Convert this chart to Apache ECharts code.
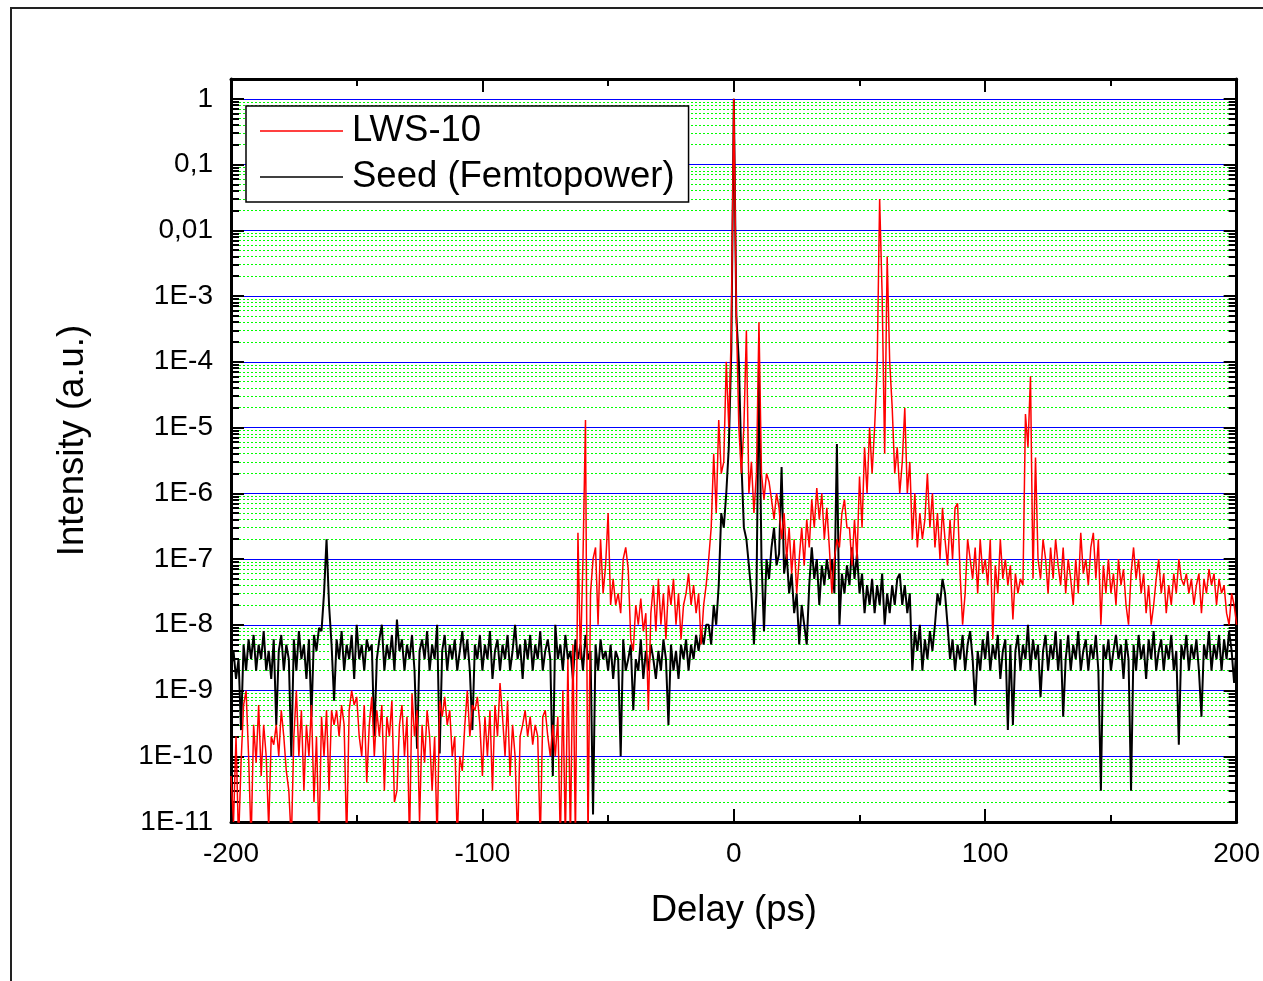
<!DOCTYPE html>
<html>
<head>
<meta charset="utf-8">
<title>Delay scan</title>
<script src="https://cdn.jsdelivr.net/npm/echarts@6.0.0/dist/echarts.min.js"></script>
<style>
  html, body { margin: 0; padding: 0; background: #fff; }
  #chart { width: 1263px; height: 981px; }
</style>
</head>
<body>
<div id="chart"></div>
<script>
// delay grid, 1 ps sampling from -200 to 200 ps
const delayStart = -200;
const delayEnd = 200;

// LWS-10 (red), one value per ps
const lwsValues = [
  5e-11, 1e-11, 2e-10, 5e-12, 8e-11, 6e-10, 1e-9, 1e-10, 5e-12, 3e-10, // -200
  8e-11, 6e-10, 5e-11, 3e-10, 1e-10, 8e-12, 2e-10, 1.5e-10, 3e-10, 1e-10, // -190
  5e-10, 2e-10, 6e-11, 3e-11, 5e-12, 2e-10, 1e-9, 1e-10, 5e-10, 3e-11, // -180
  3e-10, 1e-10, 6e-10, 2e-11, 2e-10, 5e-12, 4e-10, 1e-10, 5e-10, 3e-11, // -170
  5e-10, 3e-10, 5e-10, 2e-10, 6e-10, 3e-10, 5e-12, 5e-10, 1e-9, 6e-10, // -160
  8e-10, 2e-10, 1e-10, 6e-10, 4e-11, 3e-10, 8e-10, 1e-10, 5e-10, 2e-10, // -150
  6e-10, 3e-11, 4e-10, 2e-10, 7e-10, 2e-11, 3e-11, 3e-10, 6e-10, 1e-10, // -140
  4e-10, 5e-12, 9e-10, 2e-10, 5e-10, 1e-11, 3e-10, 8e-11, 5e-10, 2e-10, // -130
  3e-11, 2e-10, 5e-12, 7e-10, 4e-10, 8e-10, 3e-10, 5e-10, 1e-10, 2e-10, // -120
  5e-12, 1e-10, 6e-11, 3e-10, 1e-9, 2e-10, 6e-10, 5e-10, 8e-10, 3e-10, // -110
  5e-11, 4e-10, 1e-10, 5e-10, 3e-11, 6e-10, 2e-10, 1.3e-9, 4e-10, 1e-10, // -100
  7e-10, 5e-11, 3e-10, 1e-10, 5e-12, 2e-10, 3e-10, 5e-10, 2e-10, 4e-10, // -90
  1.5e-10, 3e-10, 2e-10, 5e-12, 4e-10, 5e-10, 2e-10, 1e-10, 3e-10, 1e-10, // -80
  4e-10, 5e-12, 1e-9, 5e-12, 3e-9, 5e-12, 5e-9, 5e-12, 2.5e-7, 3e-9, // -70
  1e-7, 1.3e-5, 5e-12, 3e-8, 1e-7, 1.5e-7, 1e-8, 2e-7, 3e-8, 8e-8, // -60
  5e-7, 2e-8, 5e-8, 2e-8, 3e-8, 1.5e-8, 1e-7, 1.5e-7, 7e-8, 6e-9, // -50
  4e-9, 2e-8, 1e-8, 2.5e-8, 8e-9, 1.5e-8, 5e-10, 1.5e-8, 4e-8, 8e-9, // -40
  5e-8, 1e-8, 3e-8, 6e-9, 4e-8, 2e-8, 5e-8, 1e-8, 3e-8, 6e-9, // -30
  2e-8, 3e-8, 6e-8, 2e-8, 4e-8, 1.5e-8, 3e-8, 5e-9, 2e-8, 4e-8, // -20
  1e-7, 3e-7, 4e-6, 5e-7, 1.3e-5, 2e-6, 3e-6, 1e-4, 1e-5, 3e-4, // -10
  1, 5e-4, 1e-5, 2e-6, 1e-5, 3e-4, 1e-6, 3e-6, 5e-7, 2e-6, // 0
  4e-4, 2e-6, 8e-7, 2e-6, 1.5e-6, 8e-7, 4e-7, 1e-6, 6e-7, 2e-7, // 10
  5e-7, 1e-7, 3e-7, 6e-8, 2e-7, 3e-8, 1e-7, 3e-7, 8e-8, 4e-7, // 20
  1.5e-7, 8e-7, 3e-7, 1.2e-6, 4e-7, 1e-6, 2e-7, 6e-7, 1.5e-7, 3e-8, // 30
  1e-7, 2e-7, 1.5e-7, 5e-7, 8e-7, 3e-7, 3e-7, 8e-8, 4e-7, 1e-7, // 40
  1.8e-6, 3e-7, 5e-6, 1e-6, 1e-5, 2e-6, 1e-5, 8e-5, 0.03, 1e-3, // 50
  4e-6, 4e-3, 1e-4, 2e-5, 2e-6, 5e-6, 1e-6, 3e-6, 2e-5, 1e-6, // 60
  3e-6, 2e-7, 1e-6, 1.5e-7, 5e-7, 2e-7, 4e-7, 2e-6, 3e-7, 1e-6, // 70
  1.5e-7, 5e-7, 1e-7, 6e-7, 2e-7, 8e-8, 4e-7, 1e-7, 6e-7, 7e-7, // 80
  6e-8, 1e-8, 3e-8, 2e-7, 1e-7, 5e-8, 1.5e-7, 3e-8, 2e-7, 6e-8, // 90
  1e-7, 4e-8, 2e-7, 6e-9, 8e-8, 3e-8, 2e-7, 5e-8, 1e-7, 4e-8, // 100
  8e-8, 1.2e-8, 6e-8, 3e-8, 5e-8, 4e-8, 1.6e-5, 5e-6, 6e-5, 5e-8, // 110
  3.5e-6, 1e-7, 5e-8, 2e-7, 1e-7, 3e-8, 1.5e-7, 5e-8, 2e-7, 8e-8, // 120
  4e-8, 1.5e-7, 3e-8, 1e-7, 5e-8, 2e-8, 1e-7, 3e-8, 2.5e-7, 6e-8, // 130
  1e-7, 4e-8, 1.5e-7, 2.5e-7, 5e-8, 2e-7, 1e-8, 8e-8, 3e-8, 1e-7, // 140
  3e-8, 6e-8, 2e-8, 1e-7, 4e-8, 7e-8, 2e-8, 1e-8, 6e-8, 1.5e-7, // 150
  5e-8, 1e-7, 3e-8, 6e-8, 1.5e-8, 4e-8, 1e-8, 2e-8, 5e-8, 1e-7, // 160
  3e-8, 6e-8, 1.5e-8, 4e-8, 2e-8, 6e-8, 3e-8, 1e-7, 5e-8, 4e-8, // 170
  6e-8, 3e-8, 5e-8, 2e-8, 4e-8, 6e-8, 1.5e-8, 5e-8, 3e-8, 7e-8, // 180
  4e-8, 6e-8, 2e-8, 5e-8, 3e-8, 4e-8, 1.5e-8, 1e-8, 3e-8, 2e-8, // 190
  1e-8 // 200
];

// Seed (Femtopower) (black)
const seedValues = [
  2e-9, 4e-9, 1.5e-9, 3e-9, 2.5e-10, 5e-9, 2e-9, 6e-9, 3e-9, 7e-9, // -200
  2e-9, 5e-9, 3e-9, 8e-9, 2e-9, 4e-9, 1.5e-9, 6e-9, 3e-10, 4e-9, // -190
  7e-9, 2e-9, 5e-9, 3e-9, 1e-10, 6e-9, 2e-9, 8e-9, 3e-9, 5e-9, // -180
  1.5e-9, 6e-9, 4e-10, 7e-9, 4e-9, 9e-9, 8e-9, 3e-8, 2e-7, 2e-8, // -170
  5e-9, 7e-10, 6e-9, 3e-9, 8e-9, 2e-9, 5e-9, 3e-9, 7e-9, 1.5e-9, // -160
  1e-8, 3e-9, 5e-9, 2e-9, 6e-9, 4e-9, 5e-9, 2e-10, 3e-9, 6e-9, // -150
  1e-8, 2e-9, 5e-9, 3e-9, 7e-9, 2e-9, 1.2e-8, 4e-9, 6e-9, 2e-9, // -140
  5e-9, 3e-9, 7e-9, 2e-9, 1.3e-10, 4e-9, 6e-9, 3e-9, 8e-9, 2e-9, // -130
  5e-9, 3e-9, 1e-8, 1.1e-10, 4e-9, 7e-9, 2e-9, 5e-9, 3e-9, 6e-9, // -120
  2e-9, 4e-9, 8e-9, 3e-9, 6e-9, 2e-9, 2.5e-10, 5e-9, 3e-9, 7e-9, // -110
  2e-9, 5e-9, 3e-9, 8e-9, 1.5e-9, 4e-9, 6e-9, 2e-9, 5e-9, 3e-9, // -100
  7e-9, 2e-9, 4e-9, 1e-8, 3e-9, 5e-9, 1.5e-9, 6e-9, 3e-9, 7e-9, // -90
  2e-9, 5e-9, 3e-9, 8e-9, 2e-9, 4e-9, 6e-9, 3e-9, 5e-11, 1e-8, // -80
  3e-9, 5e-9, 2e-9, 7e-9, 3e-9, 4e-9, 1.5e-9, 6e-9, 3e-9, 5e-9, // -70
  2e-9, 7e-9, 3e-9, 4e-9, 1.3e-11, 5e-9, 2e-9, 6e-9, 3e-9, 4e-9, // -60
  2e-9, 5e-9, 1.5e-9, 4e-9, 3e-9, 1e-10, 6e-9, 2e-9, 3e-9, 5e-9, // -50
  5e-10, 3e-9, 2e-9, 6e-9, 1.5e-9, 4e-9, 2e-9, 5e-9, 3e-9, 1.5e-9, // -40
  4e-9, 2e-9, 6e-9, 3e-9, 3e-10, 5e-9, 2e-9, 4e-9, 1.5e-9, 5e-9, // -30
  3e-9, 6e-9, 2e-9, 5e-9, 3e-9, 7e-9, 4e-9, 8e-9, 5e-9, 1e-8, // -20
  1e-8, 5e-9, 2e-8, 1e-8, 4e-8, 5e-7, 3e-7, 1e-6, 5e-6, 1.5e-4, // -10
  1, 5e-4, 1e-4, 3e-6, 3e-7, 2e-7, 8e-8, 3e-8, 5e-9, 3e-8, // 0
  8e-5, 1e-7, 8e-9, 1e-7, 5e-8, 1.5e-7, 3e-7, 8e-8, 1.2e-7, 2.5e-6, // 10
  6e-8, 1.2e-7, 3e-8, 6e-8, 1.5e-8, 3e-8, 5e-9, 2e-8, 1e-8, 5e-9, // 20
  4e-8, 1.5e-7, 5e-8, 1e-7, 2e-8, 8e-8, 4e-8, 1e-7, 5e-8, 1e-7, // 30
  3e-8, 5.6e-6, 1e-8, 6e-8, 3e-8, 8e-8, 4e-8, 1.5e-7, 5e-8, 1.2e-7, // 40
  3e-8, 6e-8, 1.5e-8, 4e-8, 2e-8, 5e-8, 1.5e-8, 4e-8, 2e-8, 6e-8, // 50
  1e-8, 3e-8, 1.5e-8, 4e-8, 2e-8, 5e-8, 6e-8, 2e-8, 4e-8, 1.5e-8, // 60
  3e-8, 2e-9, 8e-9, 4e-9, 1e-8, 2e-9, 6e-9, 3e-9, 8e-9, 4e-9, // 70
  1e-8, 3e-8, 2e-8, 5e-8, 3e-8, 1e-8, 3e-9, 6e-9, 2e-9, 5e-9, // 80
  3e-9, 7e-9, 2e-9, 5e-9, 8e-9, 3e-9, 6e-10, 4e-9, 2e-9, 6e-9, // 90
  3e-9, 8e-9, 2e-9, 5e-9, 3e-9, 7e-9, 1.5e-9, 4e-9, 6e-9, 2.5e-10, // 100
  5e-9, 3e-10, 4e-9, 7e-9, 2e-9, 5e-9, 3e-9, 1e-8, 2e-9, 6e-9, // 110
  3e-9, 5e-9, 8e-10, 4e-9, 7e-9, 2e-9, 5e-9, 3e-9, 8e-9, 2e-9, // 120
  6e-9, 4e-10, 3e-9, 7e-9, 2e-9, 5e-9, 3e-9, 8e-9, 2e-9, 4e-9, // 130
  6e-9, 2e-9, 5e-9, 3e-9, 7e-9, 2e-9, 3e-11, 5e-9, 3e-9, 6e-9, // 140
  2e-9, 4e-9, 7e-9, 3e-9, 5e-9, 1.5e-9, 6e-9, 3e-9, 3e-11, 5e-9, // 150
  2e-9, 7e-9, 3e-9, 5e-9, 1.5e-9, 6e-9, 3e-9, 8e-9, 2e-9, 4e-9, // 160
  6e-9, 2e-9, 5e-9, 3e-9, 7e-9, 2e-9, 4e-9, 1.5e-10, 5e-9, 3e-9, // 170
  7e-9, 2e-9, 5e-9, 3e-9, 6e-9, 2e-9, 4e-10, 5e-9, 3e-9, 8e-9, // 180
  2e-9, 5e-9, 3e-9, 7e-9, 2e-9, 6e-9, 3e-9, 8e-9, 4e-9, 1.3e-9, // 190
  5e-9 // 200
];

// y tick labels, 1E-11 ... 1 (decimal comma as in the original)
const yTickLabels = ["1E-11", "1E-10", "1E-9", "1E-8", "1E-7", "1E-6", "1E-5", "1E-4", "1E-3", "0,01", "0,1", "1"];
const xTicks = { min: -200, max: 200, interval: 100 };
const yRange = { min: 1e-11, max: 2 };

const FONT = "'Liberation Sans', Arial, sans-serif";

const delays = [];
for (let t = delayStart; t <= delayEnd; t++) delays.push(t);
const toPairs = (vals) => vals.map((v, i) => [delays[i], v]);

const yLabel = (value) => {
  const e = Math.log10(value);
  if (Math.abs(e - Math.round(e)) > 0.01) return "";
  return yTickLabels[Math.round(e) + 11] || "";
};

const frameAxisLine = { show: true, onZero: false, lineStyle: { color: "#000", width: 3 } };
const tick = { show: true, inside: true, length: 13, lineStyle: { color: "#000", width: 2 } };

const chart = echarts.init(document.getElementById("chart"), null, { renderer: "canvas" });

const option = {
  animation: false,
  backgroundColor: "#fff",
  graphic: [
    {
      type: "rect",
      silent: true,
      z: -10,
      shape: { x: 11, y: 8, width: 1400, height: 1100 },
      style: { fill: "none", stroke: "#222", lineWidth: 2 },
    },
  ],
  grid: { left: 231, top: 79, width: 1006, height: 743, containLabel: false },
  legend: {
    orient: "vertical",
    left: 246,
    top: 106,
    selectedMode: false,
    backgroundColor: "#fff",
    borderColor: "#000",
    borderWidth: 1.5,
    borderRadius: 0,
    padding: [5, 14, 5, 14],
    itemGap: 6,
    itemWidth: 83,
    itemHeight: 1.5,
    icon: "rect",
    textStyle: { fontSize: 36.5, fontFamily: FONT, color: "#000", lineHeight: 40, padding: [0, 0, 0, 4] },
    data: ["LWS-10", "Seed (Femtopower)"],
  },
  xAxis: [
    {
      type: "value",
      min: xTicks.min,
      max: xTicks.max,
      interval: xTicks.interval,
      name: "Delay (ps)",
      nameLocation: "middle",
      nameGap: 70,
      nameTextStyle: { fontSize: 36.5, fontFamily: FONT, color: "#000" },
      axisLine: frameAxisLine,
      axisTick: tick,
      minorTick: { show: true, splitNumber: 2, length: 7, lineStyle: { color: "#000", width: 2 } },
      axisLabel: { fontSize: 28, fontFamily: FONT, color: "#000", margin: 18 },
      splitLine: { show: false },
    },
    {
      type: "value",
      position: "top",
      min: xTicks.min,
      max: xTicks.max,
      interval: xTicks.interval,
      axisLine: frameAxisLine,
      axisTick: tick,
      minorTick: { show: true, splitNumber: 2, length: 7, lineStyle: { color: "#000", width: 2 } },
      axisLabel: { show: false },
      splitLine: { show: false },
    },
  ],
  yAxis: [
    {
      type: "log",
      logBase: 10,
      min: yRange.min,
      max: yRange.max,
      interval: 1,
      name: "Intensity (a.u.)",
      nameLocation: "middle",
      nameGap: 140,
      nameTextStyle: { fontSize: 36.5, fontFamily: FONT, color: "#000", padding: [0, 0, 0, 20] },
      axisLine: frameAxisLine,
      axisTick: tick,
      minorTick: { show: true, splitNumber: 9, length: 8, lineStyle: { color: "#000", width: 2 } },
      axisLabel: { fontSize: 28, fontFamily: FONT, color: "#000", margin: 18, formatter: yLabel },
      splitLine: { show: true, lineStyle: { color: "#0000ff", width: 1.2 } },
      minorSplitLine: { show: true, lineStyle: { color: "#00ff00", width: 1, type: [2, 2] } },
    },
    {
      type: "log",
      logBase: 10,
      position: "right",
      min: yRange.min,
      max: yRange.max,
      interval: 1,
      axisLine: frameAxisLine,
      axisTick: tick,
      minorTick: { show: true, splitNumber: 9, length: 8, lineStyle: { color: "#000", width: 2 } },
      axisLabel: { show: false },
      splitLine: { show: false },
    },
  ],
  series: [
    {
      name: "Seed (Femtopower)",
      type: "line",
      data: toPairs(seedValues),
      symbol: "none",
      clip: true,
      z: 3,
      lineStyle: { color: "#000", width: 2 },
      itemStyle: { color: "#000" },
    },
    {
      name: "LWS-10",
      type: "line",
      data: toPairs(lwsValues),
      symbol: "none",
      clip: true,
      z: 4,
      lineStyle: { color: "#ff0000", width: 1.5 },
      itemStyle: { color: "#ff0000" },
    },
  ],
};

chart.setOption(option);
</script>
</body>
</html>
